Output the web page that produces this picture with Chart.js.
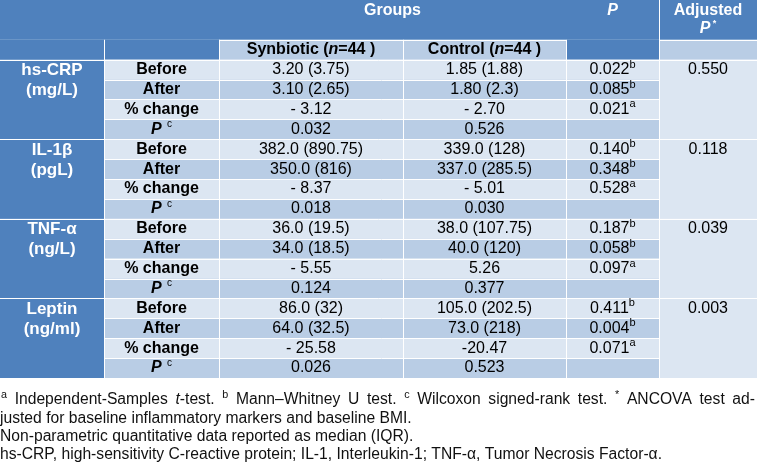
<!DOCTYPE html>
<html>
<head>
<meta charset="utf-8">
<script src="https://cdn.jsdelivr.net/npm/chart.js@4.4.1/dist/chart.umd.min.js"></script>
<style>
  html, body { margin: 0; padding: 0; background: #fff; }
  #wrap { width: 757px; height: 466px; }
</style>
</head>
<body>
<div id="wrap"><canvas id="chart" width="757" height="466"></canvas></div>
<script>
// table content
var markers = ['hs-CRP', 'IL-1β', 'TNF-α', 'Leptin'];
var units = ['(mg/L)', '(pgL)', '(ng/L)', '(ng/ml)'];
var timepoints = ['Before', 'After', '% change', 'P'];
var groups = ['Synbiotic', 'Control'];
var groupN = [44, 44];
var synbiotic = [
  ['3.20 (3.75)', '3.10 (2.65)', '- 3.12', '0.032'],
  ['382.0 (890.75)', '350.0 (816)', '- 8.37', '0.018'],
  ['36.0 (19.5)', '34.0 (18.5)', '- 5.55', '0.124'],
  ['86.0 (32)', '64.0 (32.5)', '- 25.58', '0.026']
];
var control = [
  ['1.85 (1.88)', '1.80 (2.3)', '- 2.70', '0.526'],
  ['339.0 (128)', '337.0 (285.5)', '- 5.01', '0.030'],
  ['38.0 (107.75)', '40.0 (120)', '5.26', '0.377'],
  ['105.0 (202.5)', '73.0 (218)', '-20.47', '0.523']
];
var pBetween = [
  ['0.022', '0.085', '0.021'],
  ['0.140', '0.348', '0.528'],
  ['0.187', '0.058', '0.097'],
  ['0.411', '0.004', '0.071']
];
var pTests = ['b', 'b', 'a'];
var adjustedP = ['0.550', '0.118', '0.039', '0.003'];

// layout (x in px units, y in row units: header = 3 rows, then 4 per marker)
var colEdges = [0, 104, 219, 403, 566, 659, 757];
var headRows = 3;
var totalRows = headRows + markers.length * timepoints.length;

var BLUE = '#4F81BD', LIGHT = '#DCE6F2', MID = '#B9CDE5';
var FAMILY = "'Liberation Sans', Arial, Helvetica, sans-serif";
function font(spec) { return spec + ' ' + FAMILY; }

function T(t, spec, dy) { return { t: t, font: font(spec), dy: dy || 0 }; }

function measureRuns(ctx, runs) {
  var w = 0;
  runs.forEach(function(r) { ctx.font = r.font; w += ctx.measureText(r.t).width; });
  return w;
}

function drawRuns(ctx, runs, x, y, align) {
  var w = measureRuns(ctx, runs);
  var cx = align === 'center' ? x - w / 2 : x;
  ctx.textAlign = 'left';
  runs.forEach(function(r) {
    ctx.font = r.font;
    ctx.fillText(r.t, cx, y + r.dy);
    cx += ctx.measureText(r.t).width;
  });
}

// footnote line, squeezed by sx and optionally justified to targetW
function drawNote(ctx, runs, x, y, sx, targetW) {
  var natural = measureRuns(ctx, runs) * sx;
  var spaces = 0;
  runs.forEach(function(r) { spaces += r.t.split(' ').length - 1; });
  var extra = targetW && spaces ? Math.max(0, (targetW - x - natural) / spaces) : 0;
  var cx = x;
  ctx.textAlign = 'left';
  runs.forEach(function(r) {
    ctx.font = r.font;
    r.t.split(' ').forEach(function(p, i) {
      if (i > 0) cx += ctx.measureText(' ').width * sx + extra;
      ctx.save();
      ctx.translate(cx, y + r.dy);
      ctx.scale(sx, 1);
      ctx.fillText(p, 0, 0);
      ctx.restore();
      cx += ctx.measureText(p).width * sx;
    });
  });
}

var tablePlugin = {
  id: 'table',
  afterDraw: function(chart) {
    var ctx = chart.ctx;
    var xs = chart.scales.x, ys = chart.scales.y;
    function X(c) { return xs.getPixelForValue(colEdges[c]); }
    function Y(r) { return ys.getPixelForValue(r); }
    function cell(c0, c1, r0, r1, color) {
      ctx.fillStyle = color;
      ctx.fillRect(X(c0), Y(r0), X(c1) - X(c0), Y(r1) - Y(r0));
    }
    function hline(c0, c1, r) {
      ctx.beginPath(); ctx.moveTo(X(c0), Math.round(Y(r)) + 0.5); ctx.lineTo(X(c1), Math.round(Y(r)) + 0.5); ctx.stroke();
    }
    function vline(c, r0, r1) {
      ctx.beginPath(); ctx.moveTo(Math.round(X(c)) + 0.5, Y(r0)); ctx.lineTo(Math.round(X(c)) + 0.5, Y(r1)); ctx.stroke();
    }
    function cx(c) { return (X(c) + X(c + 1)) / 2; }
    function cy(r) { return (Y(r) + Y(r + 1)) / 2; }

    ctx.save();
    // backgrounds
    cell(0, 6, 0, 2, BLUE);
    cell(0, 2, 2, 3, BLUE);
    cell(2, 4, 2, 3, MID);
    cell(4, 5, 2, 3, BLUE);
    cell(5, 6, 2, 3, MID);
    markers.forEach(function(m, b) {
      var r0 = headRows + b * 4;
      cell(0, 1, r0, r0 + 4, BLUE);
      cell(5, 6, r0, r0 + 4, LIGHT);
      for (var i = 0; i < 4; i++) cell(1, 5, r0 + i, r0 + i + 1, i % 2 ? MID : LIGHT);
    });

    // white grid
    ctx.strokeStyle = '#ffffff';
    ctx.lineWidth = 1;
    hline(2, 4, 2);
    hline(5, 6, 2);
    vline(5, 0, totalRows);
    [1, 2, 3, 4].forEach(function(c) { vline(c, 2, totalRows); });
    markers.forEach(function(m, b) {
      var r0 = headRows + b * 4;
      hline(0, 6, r0);
      for (var i = 1; i < 4; i++) hline(1, 5, r0 + i);
    });

    // header text
    ctx.textBaseline = 'middle';
    ctx.fillStyle = '#ffffff';
    var top = Y(0);
    drawRuns(ctx, [T('Groups', 'bold 16px')], (X(2) + X(4)) / 2, top + 11, 'center');
    drawRuns(ctx, [T('P', 'italic bold 16px')], cx(4), top + 11, 'center');
    drawRuns(ctx, [T('Adjusted', 'bold 16px')], cx(5), top + 11, 'center');
    drawRuns(ctx, [T('P', 'italic bold 16px'), T(' *', 'bold 9px', -5)], cx(5), top + 29, 'center');

    ctx.fillStyle = '#000000';
    groups.forEach(function(g, i) {
      drawRuns(ctx, [T(g + ' (', 'bold 16px'), T('n', 'italic bold 16px'), T('=' + groupN[i] + ' )', 'bold 16px')],
        cx(2 + i), cy(2), 'center');
    });

    // body
    markers.forEach(function(m, b) {
      var r0 = headRows + b * 4;
      ctx.fillStyle = '#ffffff';
      drawRuns(ctx, [T(m, 'bold 17px')], cx(0), cy(r0) + 1, 'center');
      drawRuns(ctx, [T(units[b], 'bold 17px')], cx(0), cy(r0 + 1) + 1, 'center');
      ctx.fillStyle = '#000000';
      timepoints.forEach(function(tp, i) {
        var r = r0 + i;
        if (tp === 'P') {
          drawRuns(ctx, [T('P', 'italic bold 16px'), T('  c', '10px', -5)], cx(1), cy(r), 'center');
        } else {
          drawRuns(ctx, [T(tp, 'bold 16px')], cx(1), cy(r), 'center');
        }
        drawRuns(ctx, [T(synbiotic[b][i], '16px')], cx(2), cy(r), 'center');
        drawRuns(ctx, [T(control[b][i], '16px')], cx(3), cy(r), 'center');
        if (i < 3) {
          drawRuns(ctx, [T(pBetween[b][i], '16px'), T(pTests[i], '11px', -5)], cx(4), cy(r), 'center');
        }
      });
      drawRuns(ctx, [T(adjustedP[b], '16px')], cx(5), cy(r0), 'center');
    });

    // footnotes
    ctx.textBaseline = 'alphabetic';
    ctx.fillStyle = '#111111';
    var base = chart.chartArea.bottom;
    var notes = [
      [T('a', '11px', -6), T(' Independent-Samples ', '16px'), T('t', 'italic 16px'), T('-test. ', '16px'),
       T('b', '11px', -6), T(' Mann–Whitney U test. ', '16px'), T('c', '11px', -6),
       T(' Wilcoxon signed-rank test. ', '16px'), T('*', '11px', -6), T(' ANCOVA test ad-', '16px')],
      [T('justed for baseline inflammatory markers and baseline BMI.', '16px')],
      [T('Non-parametric quantitative data reported as median (IQR).', '16px')],
      [T('hs-CRP, high-sensitivity C-reactive protein; IL-1, Interleukin-1; TNF-α, Tumor Necrosis Factor-α.', '16px')]
    ];
    var sx = 662 / measureRuns(ctx, notes[3]);
    drawNote(ctx, notes[0], 1, base + 26, sx, 755);
    drawNote(ctx, notes[1], 0, base + 45, sx);
    drawNote(ctx, notes[2], 0, base + 63, sx);
    drawNote(ctx, notes[3], 0, base + 81, sx);
    ctx.restore();
  }
};

var ctx = document.getElementById('chart').getContext('2d');
var chart = new Chart(ctx, {
  type: 'scatter',
  data: { datasets: [] },
  options: {
    responsive: false,
    animation: false,
    devicePixelRatio: 1,
    layout: { padding: { left: 0, right: 0, top: 0, bottom: 88 } },
    plugins: {
      legend: { display: false },
      tooltip: { enabled: false }
    },
    scales: {
      x: { type: 'linear', display: false, min: 0, max: colEdges[colEdges.length - 1] },
      y: { type: 'linear', display: false, min: 0, max: totalRows, reverse: true }
    }
  },
  plugins: [tablePlugin]
});
</script>
</body>
</html>
